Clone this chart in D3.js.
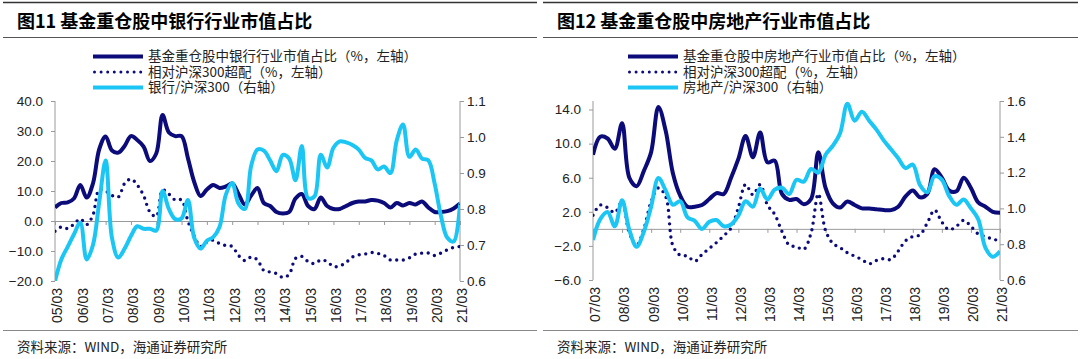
<!DOCTYPE html>
<html><head><meta charset="utf-8">
<script src="https://cdn.jsdelivr.net/npm/d3@7"></script>
<style>
body{margin:0;background:#fff;}
svg{display:block;}
</style>
</head><body>
<svg id="c" width="1080" height="359"></svg>
<script>
// ---------- Data: Figure 11 (banks) ----------
const bankTitle = "图11 基金重仓股中银行行业市值占比";
const bankLegend = ["基金重仓股中银行行业市值占比（%，左轴）", "相对沪深300超配（%，左轴）", "银行/沪深300（右轴）"];
const bankTickLabels = ["05/03","06/03","07/03","08/03","09/03","10/03","11/03","12/03","13/03","14/03","15/03","16/03","17/03","18/03","19/03","20/03","21/03"];
const bankLeftTicks = [-20, -10, 0, 10, 20, 30, 40];
const bankRightTicks = [0.6, 0.7, 0.8, 0.9, 1.0, 1.1];
const bankShare = [4.5,6.0,6.2,7.5,12.0,7.8,12.5,24,28.2,23.5,22.8,25,28.3,27,24.8,20,22.5,35.3,29.5,28.3,28.3,21,13,8.3,10.5,12,11,11.5,12.5,9,5.5,8.5,11,6,5,3,2.5,3,7.5,9,5,4,7.8,5,4,4,5,6,6.5,6.5,7,6.8,6,4.5,6,5.2,6,5.5,6.5,4.5,3,3,3.3,4.2,5.8];
const bankOverweight = [-3.4,-2.0,-2.5,-1.0,0.7,-1.2,2.0,10.5,10,8.5,8,12.5,14,12,8.5,3,1.5,10.4,9,7,7,0,-5,-8.5,-7,-6.4,-7.5,-8.2,-8.5,-11.5,-13.2,-12,-13,-16.5,-17,-17.5,-18.8,-17.8,-12.5,-11.8,-13.5,-14.2,-13,-13.5,-15.2,-15,-13.8,-12,-11.3,-11,-10.5,-10.8,-11.5,-13,-13,-13,-12.3,-11,-10.7,-10.7,-11.5,-10.7,-9.6,-8.8,-8.5];
const bankRelative = [0.60,0.66,0.695,0.73,0.762,0.66,0.70,0.82,0.935,0.72,0.665,0.69,0.725,0.752,0.745,0.745,0.74,0.85,0.80,0.772,0.774,0.825,0.72,0.69,0.712,0.722,0.75,0.84,0.872,0.815,0.80,0.92,0.965,0.962,0.935,0.905,0.95,0.94,0.88,0.975,0.83,0.835,0.951,0.915,0.97,0.988,0.985,0.978,0.965,0.942,0.935,0.91,0.918,0.90,0.99,1.035,0.945,0.965,0.94,0.935,0.87,0.78,0.72,0.71,0.815];

// ---------- Data: Figure 12 (real estate) ----------
const reTitle = "图12 基金重仓股中房地产行业市值占比";
const reLegend = ["基金重仓股中房地产行业市值占比（%，左轴）", "相对沪深300超配（%，左轴）", "房地产/沪深300（右轴）"];
const reTickLabels = ["07/03","08/03","09/03","10/03","11/03","12/03","13/03","14/03","15/03","16/03","17/03","18/03","19/03","20/03","21/03"];
const reLeftTicks = [-6, -2, 2, 6, 10, 14];
const reRightTicks = [0.6, 0.8, 1.0, 1.2, 1.4, 1.6];
const reShare = [8.7,10.8,10.6,9.4,12.4,6.0,5.0,6.8,9.0,14.3,11.5,6.5,3.9,2.6,2.6,2.8,3.5,4.2,4.1,6.0,8.2,10.9,8.4,11.3,7.8,8.0,4.1,3.4,3.5,2.9,3.5,9.0,4.8,3.0,2.5,3.2,2.8,2.4,2.4,2.3,2.2,2.2,2.6,3.8,4.5,3.7,4.1,7.0,6.0,4.5,4.4,6.0,4.8,3.1,2.6,2.0,1.9];
const reOverweight = [1.6,2.8,2.5,1.9,3.2,-0.5,-1.9,0.0,3.2,4.8,3.8,-2.0,-3.1,-3.2,-3.8,-3.0,-2.3,-1.6,-0.8,0.1,2.5,5.2,4.0,5.2,2.8,1.7,-0.3,-1.9,-2.1,-2.4,-0.5,4.1,-0.2,-1.7,-2.2,-2.8,-3.2,-3.6,-4.1,-3.7,-3.5,-3.6,-2.6,-1.4,-0.9,-0.7,0.7,2.2,0.8,-0.1,0.3,1.0,0.3,-0.6,-0.9,-1.2,-1.4];
const reRelative = [0.823,0.94,0.98,0.90,1.045,0.88,0.786,0.87,1.01,1.17,1.10,1.02,1.04,0.95,0.93,0.885,0.925,0.935,0.90,0.91,0.96,1.04,1.01,1.11,1.05,1.105,1.115,1.08,1.16,1.15,1.22,1.20,1.30,1.35,1.42,1.585,1.49,1.54,1.49,1.44,1.38,1.33,1.28,1.225,1.245,1.13,1.09,1.18,1.16,1.07,1.02,1.05,1.00,0.94,0.78,0.73,0.76];

const sourceText = "资料来源：WIND，海通证券研究所";

// quarter categories "YY/MM"
function quarters(startYear, n) {
  const out = [];
  const months = ["03","06","09","12"];
  for (let k = 0; k < n; k++) {
    const y = startYear + Math.floor(k / 4);
    out.push(String(y).padStart(2, "0") + "/" + months[k % 4]);
  }
  return out;
}
const bankQuarters = quarters(5, bankShare.length);
const reQuarters = quarters(7, reShare.length);

const NAVY = "#0b0b7a", CYAN = "#1cc6f4", AXIS = "#9a9a9a";
const CJK = "'Noto Sans CJK SC','Noto Sans',sans-serif";
const LAT = "'Liberation Sans',Arial,sans-serif";

const svg = d3.select("#c");

function panel(o) {
  const g = svg.append("g");
  g.append("line").attr("x1", o.fx0).attr("x2", o.fx1).attr("y1", 2.5).attr("y2", 2.5).attr("stroke", "#333").attr("stroke-width", 1.5);
  g.append("line").attr("x1", o.fx0).attr("x2", o.fx1).attr("y1", 37.5).attr("y2", 37.5).attr("stroke", "#555").attr("stroke-width", 1);
  g.append("line").attr("x1", o.fx0).attr("x2", o.fx1).attr("y1", 330.5).attr("y2", 330.5).attr("stroke", "#888").attr("stroke-width", 1);
  g.append("text").attr("x", o.fx0 + 14).attr("y", 28).attr("font-family", CJK).attr("font-weight", "bold")
    .attr("font-size", 18).attr("fill", "#000").text(o.title);
  g.append("text").attr("x", o.fx0 + 14).attr("y", 352).attr("font-family", CJK)
    .attr("font-size", 13.5).attr("fill", "#222").text(sourceText);

  const x = d3.scalePoint().domain(o.cats).range([o.x0, o.x1]);
  const yL = d3.scaleLinear().domain(o.leftDomain).range([o.yBot, o.yTop]);
  const yR = d3.scaleLinear().domain(o.rightDomain).range([o.yBot, o.yTop]);

  const aL = g.append("g").attr("transform", `translate(${o.x0},0)`)
    .call(d3.axisLeft(yL).tickValues(o.leftTicks).tickFormat(d3.format(".1f")).tickSize(4).tickSizeOuter(0));
  const aR = g.append("g").attr("transform", `translate(${o.x1},0)`)
    .call(d3.axisRight(yR).tickValues(o.rightTicks).tickFormat(d3.format(".1f")).tickSize(4).tickSizeOuter(0));
  [aL, aR].forEach(a => {
    a.selectAll("path,line").attr("stroke", AXIS);
    a.selectAll("text").attr("font-family", LAT).attr("font-size", 13.5).attr("fill", "#222");
  });
  aL.selectAll("text").attr("x", -12);
  aR.selectAll("text").attr("x", 7);
  aL.select(".domain").attr("d", `M0,${o.yTop}V${o.yBot}`);
  aR.select(".domain").attr("d", `M0,${o.yTop}V${o.yBot}`);

  const aZ = g.append("g").attr("transform", `translate(0,${yL(0)})`)
    .call(d3.axisBottom(x).tickValues(o.ticks).tickFormat("").tickSize(4).tickSizeOuter(0));
  aZ.selectAll("path,line").attr("stroke", AXIS);

  const aB = g.append("g").attr("transform", `translate(0,${o.yBot + 6})`)
    .call(d3.axisBottom(x).tickValues(o.ticks).tickSize(0).tickSizeOuter(0));
  aB.select(".domain").remove();
  aB.selectAll("text").attr("font-family", LAT).attr("font-size", 14).attr("fill", "#222")
    .attr("transform", "rotate(-90)").attr("text-anchor", "end").attr("x", -1).attr("y", 2).attr("dy", "0.35em");

  const cid = "clip" + o.id;
  svg.append("clipPath").attr("id", cid).append("rect")
    .attr("x", o.x0).attr("y", o.yTop - 3).attr("width", o.x1 - o.x0).attr("height", o.yBot - o.yTop + 3);
  const pg = g.append("g").attr("clip-path", `url(#${cid})`);

  const lineL = d3.line().x((d, i) => x(o.cats[i])).y(d => yL(d)).curve(d3.curveCatmullRom.alpha(0.5));
  const lineR = d3.line().x((d, i) => x(o.cats[i])).y(d => yR(d)).curve(d3.curveCatmullRom.alpha(0.5));

  pg.append("path").attr("d", lineL(o.over)).attr("fill", "none").attr("stroke", NAVY)
    .attr("stroke-width", 3.4).attr("stroke-linecap", "round").attr("stroke-dasharray", "0 6.6");
  pg.append("path").attr("d", lineL(o.share)).attr("fill", "none").attr("stroke", NAVY)
    .attr("stroke-width", 4).attr("stroke-linejoin", "round");
  pg.append("path").attr("d", lineR(o.rel)).attr("fill", "none").attr("stroke", CYAN)
    .attr("stroke-width", 4).attr("stroke-linejoin", "round");

  const lg = g.append("g");
  const rows = [56.5, 72, 87.5];
  const styles = [
    {stroke: NAVY, w: 4, dash: null},
    {stroke: NAVY, w: 3, dash: "0 6.6"},
    {stroke: CYAN, w: 4, dash: null}
  ];
  o.legend.forEach((t, k) => {
    const ln = lg.append("line").attr("x1", o.lx).attr("x2", o.lx + 50).attr("y1", rows[k]).attr("y2", rows[k])
      .attr("stroke", styles[k].stroke).attr("stroke-width", styles[k].w);
    if (styles[k].dash) ln.attr("stroke-dasharray", styles[k].dash).attr("stroke-linecap", "round").attr("x1", o.lx + 1.5);
    lg.append("text").attr("x", o.lx + 55).attr("y", rows[k] + 4.7).attr("font-family", CJK)
      .attr("font-size", 13.5).attr("fill", "#222").text(t);
  });
}

panel({
  id: "a", fx0: 3, fx1: 537, title: bankTitle, legend: bankLegend, lx: 93,
  cats: bankQuarters, ticks: bankTickLabels,
  x0: 55, x1: 460, yTop: 101, yBot: 281,
  leftDomain: [-20, 40], rightDomain: [0.6, 1.1],
  leftTicks: bankLeftTicks, rightTicks: bankRightTicks,
  share: bankShare, over: bankOverweight, rel: bankRelative
});
panel({
  id: "b", fx0: 543, fx1: 1078, title: reTitle, legend: reLegend, lx: 628,
  cats: reQuarters, ticks: reTickLabels,
  x0: 593, x1: 1000, yTop: 101, yBot: 280,
  leftDomain: [-6, 15], rightDomain: [0.6, 1.6],
  leftTicks: reLeftTicks, rightTicks: reRightTicks,
  share: reShare, over: reOverweight, rel: reRelative
});
</script>
</body></html>
